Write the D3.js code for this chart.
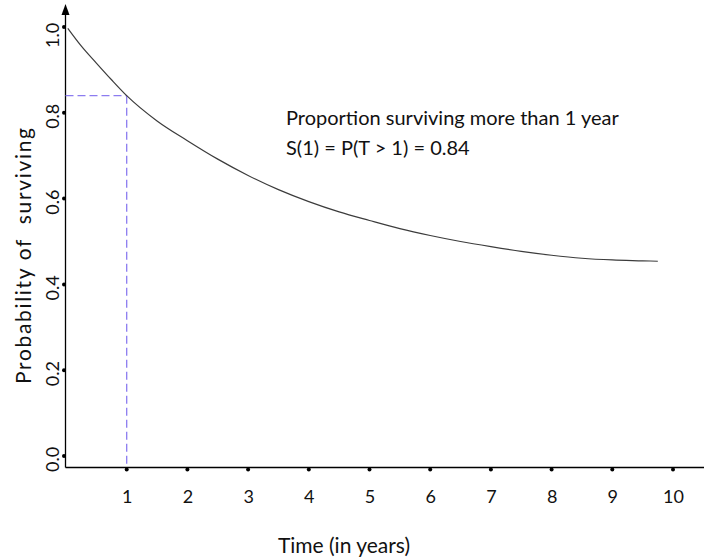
<!DOCTYPE html>
<html>
<head>
<meta charset="utf-8">
<script src="https://cdn.jsdelivr.net/npm/d3@7"></script>
<style>
  html, body { margin: 0; padding: 0; background: #fff; }
  svg { display: block; font-family: Lato, "Open Sans", sans-serif; }
</style>
</head>
<body>
<svg id="chart" width="704" height="558"></svg>
<script>
// ---- data ----
const times    = [0.03, 0.25, 0.5, 0.75, 1.0, 1.5, 2.0, 2.5, 3.0, 3.5, 4.0, 4.5, 5.0, 5.5, 6.0, 6.5, 7.0, 7.5, 8.0, 8.5, 9.0, 9.5, 9.75];
const survival = [0.997, 0.956, 0.916, 0.877, 0.84, 0.781, 0.735, 0.692, 0.654, 0.621, 0.593, 0.569, 0.549, 0.530, 0.514, 0.500, 0.488, 0.477, 0.468, 0.461, 0.457, 0.455, 0.454];
const xTicks = [1, 2, 3, 4, 5, 6, 7, 8, 9, 10];
const yTicks = [0.0, 0.2, 0.4, 0.6, 0.8, 1.0];
const markTime = 1;
const markValue = 0.84;
const annotation = ["Proportion surviving more than 1 year", "S(1) = P(T > 1) = 0.84"];
const xTitle = "Time (in years)";
const yTitle = "Probability of  surviving";

// ---- layout ----
const svg = d3.select("#chart");
const x = d3.scaleLinear().domain([0, 10]).range([66, 673]);
const y = d3.scaleLinear().domain([0, 1]).range([456, 27]);
const axisX = 65.5, axisY = 467.5;

// axes lines
svg.append("line").attr("x1", axisX).attr("x2", 704).attr("y1", axisY).attr("y2", axisY)
  .attr("stroke", "#000").attr("stroke-width", 1.3);
svg.append("line").attr("x1", axisX).attr("x2", axisX).attr("y1", 12).attr("y2", axisY)
  .attr("stroke", "#000").attr("stroke-width", 1.3);
// arrow head
svg.append("path").attr("d", `M${axisX},4 L${axisX - 4},15 L${axisX + 4},15 Z`).attr("fill", "#000");

// x axis labels via d3 axis
const gx = svg.append("g").attr("transform", `translate(0,${axisY})`)
  .call(d3.axisBottom(x).tickValues(xTicks).tickSize(0).tickPadding(23).tickFormat(d3.format("d")));
gx.select(".domain").remove();
gx.selectAll("text").attr("font-size", 18).attr("font-family", "Lato, sans-serif").attr("fill", "#111");

// x tick dots
svg.append("g").selectAll("circle").data(xTicks).join("circle")
  .attr("cx", d => x(d)).attr("cy", axisY + 2).attr("r", 2).attr("fill", "#000");

// y axis labels (rotated)
const gy = svg.append("g").attr("transform", `translate(${axisX},0)`)
  .call(d3.axisLeft(y).tickValues(yTicks).tickSize(0).tickFormat(d3.format(".1f")));
gy.select(".domain").remove();
gy.selectAll(".tick text")
  .attr("x", null).attr("dy", null)
  .attr("text-anchor", "middle")
  .attr("transform", d => `translate(-7,${d === 1 ? 8 : 3}) rotate(-90)`)
  .attr("font-size", 18).attr("font-family", "Lato, sans-serif").attr("fill", "#111");

// y tick dots
svg.append("g").selectAll("circle").data(yTicks).join("circle")
  .attr("cx", axisX - 1.5).attr("cy", d => y(d)).attr("r", 2).attr("fill", "#000");

// dashed guide lines
const guideColor = "#8c7cf0";
svg.append("line").attr("x1", axisX).attr("x2", x(markTime)).attr("y1", y(markValue)).attr("y2", y(markValue))
  .attr("stroke", guideColor).attr("stroke-width", 1.3).attr("stroke-dasharray", "8,4");
svg.append("line").attr("x1", x(markTime)).attr("x2", x(markTime)).attr("y1", y(markValue)).attr("y2", axisY)
  .attr("stroke", guideColor).attr("stroke-width", 1.3).attr("stroke-dasharray", "8,4");

// survival curve
const pts = times.map((t, i) => [t, survival[i]]);
svg.append("path").datum(pts)
  .attr("d", d3.line().x(d => x(d[0])).y(d => y(d[1])).curve(d3.curveMonotoneX))
  .attr("fill", "none").attr("stroke", "#3c3c3c").attr("stroke-width", 1.2);

// annotation
svg.append("g").selectAll("text").data(annotation).join("text")
  .attr("x", 286).attr("y", (d, i) => 125 + i * 30)
  .attr("font-size", 20).attr("fill", "#111").text(d => d);

// axis titles
svg.append("text").attr("x", 344).attr("y", 553).attr("text-anchor", "middle")
  .attr("font-size", 21).attr("fill", "#111").text(xTitle);
svg.append("text").attr("transform", "translate(31,256) rotate(-90)").attr("text-anchor", "middle")
  .attr("font-size", 21).attr("fill", "#111").style("white-space", "pre")
  .attr("textLength", 256).attr("lengthAdjust", "spacing").text(yTitle);
</script>
</body>
</html>
